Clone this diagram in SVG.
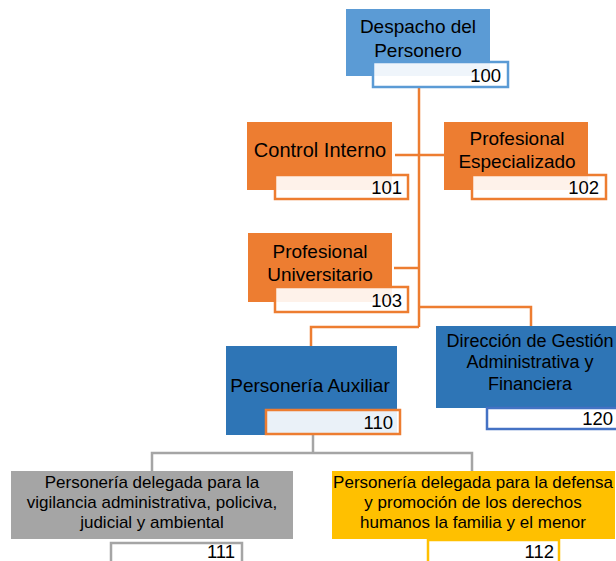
<svg xmlns="http://www.w3.org/2000/svg" width="616" height="561" viewBox="0 0 616 561">
<style>
text{font-family:"Liberation Sans",Arial,sans-serif;fill:#000}
.t{text-anchor:middle;font-size:19px}
.s{text-anchor:middle;font-size:18px}
.b{text-anchor:middle;font-size:17px}
.n{text-anchor:end;font-size:18.5px}
.lbl{fill:#fff;fill-opacity:0.9;stroke-width:2.5}
.or{fill:#ED7D31}
.lb{fill:#5B9BD5}
.db{fill:#2E75B6}
.gr{fill:#A5A5A5}
.ye{fill:#FFC000}
.co{fill:none;stroke:#ED7D31;stroke-width:2.5}
.cg{fill:none;stroke:#A5A5A5;stroke-width:2.5}
</style>
<rect width="616" height="561" fill="#fff"/>
<g id="connectors">
<path class="co" d="M419,87V327"/>
<path class="co" d="M395,155H444"/>
<path class="co" d="M394,268H419"/>
<path class="co" d="M419,307H531V326"/>
<path class="co" d="M419,327H311V346"/>
<path class="cg" d="M313,435V453"/>
<path class="cg" d="M152,471V453H472V471"/>
</g>
<g id="n100">
<rect class="lb" x="346" y="9" width="144" height="67"/>
<text class="t" x="418" y="33">Despacho del</text>
<text class="t" x="418" y="57">Personero</text>
<rect class="lbl" x="373" y="62" width="135" height="25" stroke="#5B9BD5"/>
<text class="n" x="501" y="82">100</text>
</g>
<g id="n101">
<rect class="or" x="247" y="122" width="145" height="68"/>
<text class="t" x="320" y="157" style="font-size:20px">Control Interno</text>
<rect class="lbl" x="275" y="175" width="133" height="24" stroke="#ED7D31"/>
<text class="n" x="402" y="194">101</text>
</g>
<g id="n102">
<rect class="or" x="444" y="122" width="144" height="68"/>
<text class="t" x="517" y="145">Profesional</text>
<text class="t" x="517" y="168">Especializado</text>
<rect class="lbl" x="472" y="175" width="134" height="24" stroke="#ED7D31"/>
<text class="n" x="599" y="194">102</text>
</g>
<g id="n103">
<rect class="or" x="248" y="233" width="144" height="69"/>
<text class="t" x="320" y="258">Profesional</text>
<text class="t" x="320" y="281">Universitario</text>
<rect class="lbl" x="275" y="287" width="133" height="25" stroke="#ED7D31"/>
<text class="n" x="402" y="307">103</text>
</g>
<g id="n110">
<rect class="db" x="226" y="346" width="171" height="89"/>
<text class="t" x="310" y="392">Personería Auxiliar</text>
<rect class="lbl" x="266" y="410" width="134" height="24" stroke="#ED7D31"/>
<text class="n" x="393" y="429">110</text>
</g>
<g id="n120">
<rect class="db" x="436" y="326" width="188" height="82"/>
<text class="s" x="530" y="347">Dirección de Gestión</text>
<text class="s" x="530" y="368">Administrativa y</text>
<text class="s" x="530" y="390">Financiera</text>
<rect class="lbl" x="487" y="408" width="140" height="21" stroke="#4472C4"/>
<text class="n" x="613" y="425">120</text>
</g>
<g id="n111">
<rect class="gr" x="11" y="471" width="282" height="68"/>
<text class="b" x="152" y="488">Personería delegada para la</text>
<text class="b" x="152" y="508">vigilancia administrativa, policiva,</text>
<text class="b" x="152" y="528">judicial y ambiental</text>
<rect class="lbl" x="111" y="543" width="131" height="25" stroke="#A5A5A5"/>
<text class="n" x="235" y="558">111</text>
</g>
<g id="n112">
<rect class="ye" x="332" y="471" width="283" height="68"/>
<text class="b" x="473" y="488">Personería delegada para la defensa</text>
<text class="b" x="473" y="508">y promoción de los derechos</text>
<text class="b" x="473" y="528">humanos la familia y el menor</text>
<rect class="lbl" x="428" y="540" width="131" height="28" stroke="#FFC000"/>
<text class="n" x="554" y="558">112</text>
</g>
</svg>
